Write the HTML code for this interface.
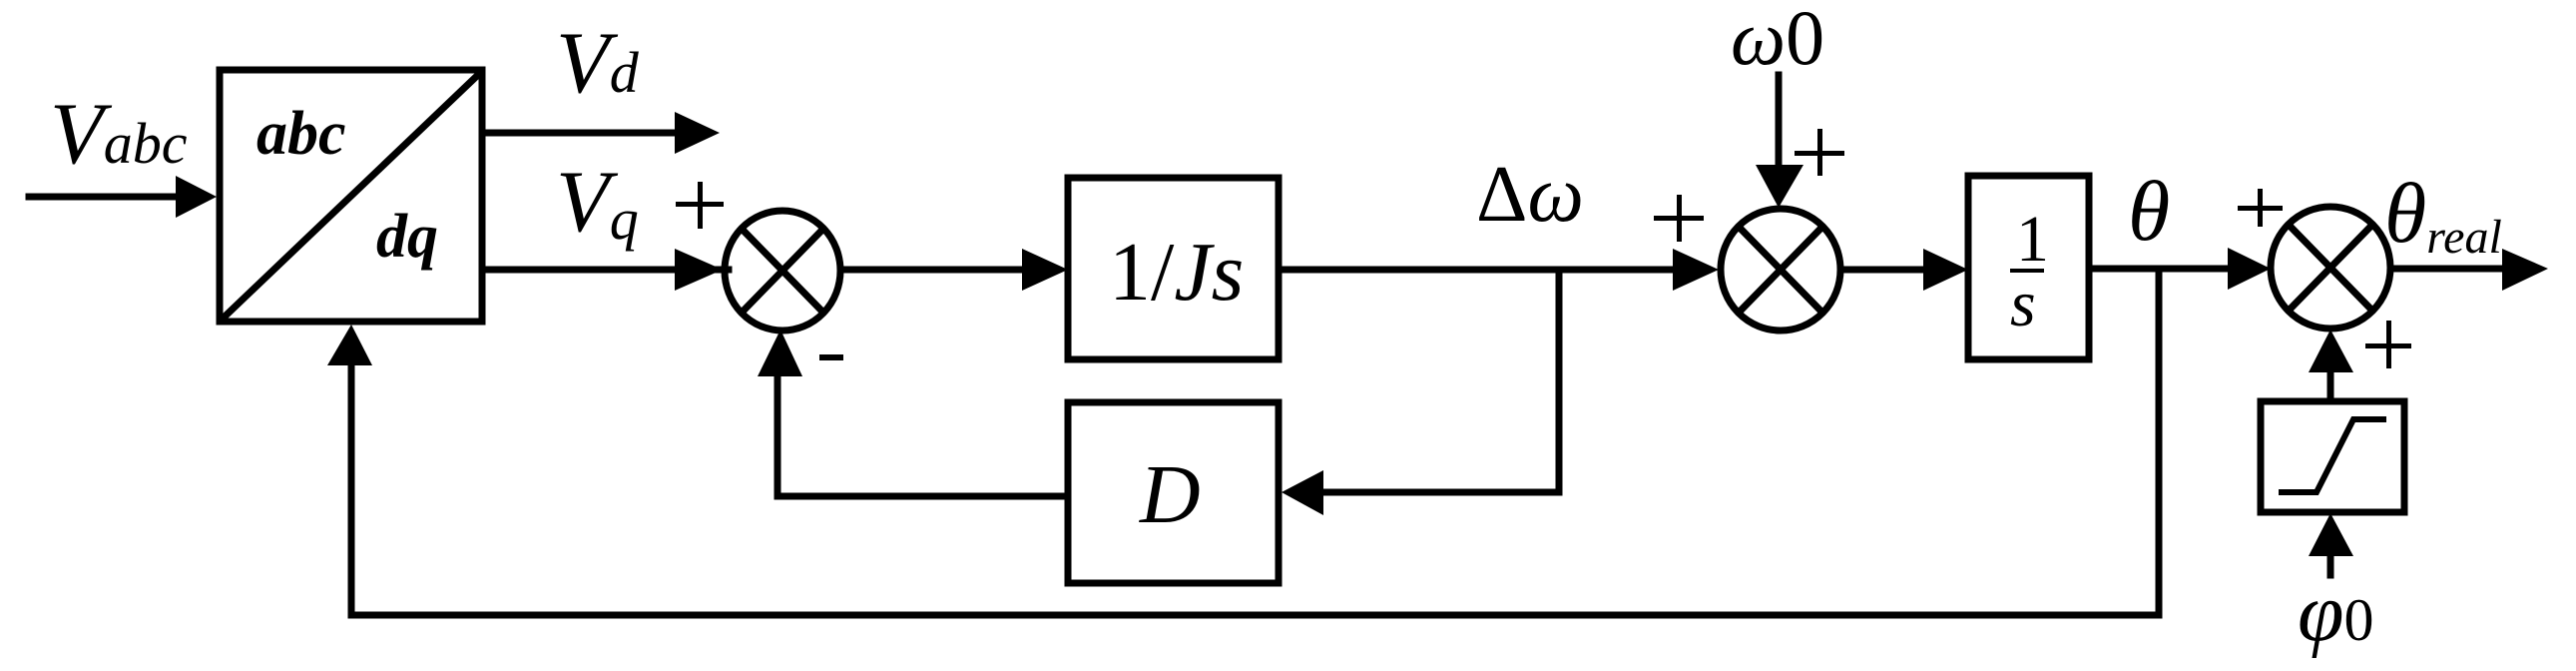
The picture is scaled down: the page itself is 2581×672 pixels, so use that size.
<!DOCTYPE html>
<html><head><style>html,body{margin:0;padding:0;background:#fff}svg{display:block}</style></head>
<body>
<svg width="2581" height="672" viewBox="0 0 2581 672" xmlns="http://www.w3.org/2000/svg" font-family="Liberation Serif, serif" font-style="italic">
<g stroke="#000" stroke-width="7" fill="none" stroke-linecap="square">
<!-- abc/dq box -->
<rect x="220" y="70" width="263" height="252"/>
<line x1="224" y1="318" x2="480" y2="74"/>
<!-- Vabc input -->
<line x1="29" y1="197" x2="180" y2="197"/>
<!-- Vd -->
<line x1="483" y1="133" x2="680" y2="133"/>
<!-- Vq -->
<line x1="483" y1="270" x2="730" y2="270"/>
<!-- summer1 -->
<ellipse cx="784" cy="271" rx="58" ry="60"/>
<line x1="743" y1="229" x2="825" y2="313"/><line x1="825" y1="229" x2="743" y2="313"/>
<line x1="842" y1="270" x2="1028" y2="270"/>
<!-- 1/Js box -->
<rect x="1070" y="178" width="211" height="182"/>
<!-- D box -->
<rect x="1070" y="403" width="211" height="181"/>
<line x1="1070" y1="497" x2="779" y2="497"/>
<line x1="779" y1="497" x2="779" y2="375"/>
<!-- forward line to summer2 -->
<line x1="1281" y1="270" x2="1680" y2="270"/>
<line x1="1562" y1="270" x2="1562" y2="493"/>
<line x1="1562" y1="493" x2="1324" y2="493"/>
<!-- summer2 -->
<ellipse cx="1784" cy="270" rx="60" ry="61"/>
<line x1="1742" y1="227" x2="1826" y2="313"/><line x1="1826" y1="227" x2="1742" y2="313"/>
<line x1="1782" y1="75" x2="1782" y2="168"/>
<line x1="1844" y1="270" x2="1930" y2="270"/>
<!-- 1/s box -->
<rect x="1972" y="176" width="121" height="184"/>
<line x1="2093" y1="269" x2="2236" y2="269"/>
<line x1="2163" y1="269" x2="2163" y2="616"/>
<line x1="2163" y1="616" x2="352" y2="616"/>
<line x1="352" y1="616" x2="352" y2="364"/>
<!-- summer3 -->
<ellipse cx="2335" cy="268" rx="60" ry="61"/>
<line x1="2293" y1="225" x2="2377" y2="311"/><line x1="2377" y1="225" x2="2293" y2="311"/>
<line x1="2395" y1="269" x2="2510" y2="269"/>
<line x1="2335" y1="402" x2="2335" y2="372"/>
<!-- saturation -->
<rect x="2265" y="402" width="144" height="111"/>
<polyline points="2283,493 2321,493 2358,420 2391,420" stroke-width="6" stroke-linecap="butt"/>
<line x1="2335" y1="576" x2="2335" y2="555"/>
</g>
<g fill="#000">
<polygon points="176,176 217,197 176,218"/>
<polygon points="676,112 721,133 676,154"/>
<polygon points="676,249 724,270 676,291"/>
<polygon points="759,377 804,377 782,330"/>
<polygon points="1024,249 1070,270 1024,291"/>
<polygon points="1326,471 1284,493 1326,516"/>
<polygon points="1676,249 1722,270 1676,291"/>
<polygon points="1759,165 1807,165 1782,208"/>
<polygon points="1927,249 1972,270 1927,291"/>
<polygon points="2232,248 2275,269 2232,290"/>
<polygon points="2507,249 2553,269 2507,291"/>
<polygon points="2313,373 2358,373 2335,330"/>
<polygon points="2313,557 2358,557 2335,514"/>
<polygon points="328,366 373,366 352,325"/>
</g>
<g font-size="88" fill="#000">
<text x="50" y="163">V<tspan font-size="58">abc</tspan></text>
<text x="557" y="92">V<tspan font-size="58">d</tspan></text>
<text x="557" y="231">V<tspan font-size="58" dy="8">q</tspan></text>
<text x="257" y="154" font-weight="bold" font-size="62">abc</text>
<text x="377" y="257" font-weight="bold" font-size="62">dq</text>
<text x="1111" y="300" font-style="normal" font-size="84">1/<tspan font-style="italic">Js</tspan></text>
<text x="1142" y="523" font-size="84">D</text>
<text x="1479" y="221" font-style="normal" font-size="80">Δ<tspan font-style="italic">ω</tspan></text>
<text x="1734" y="64" font-size="78">ω<tspan font-style="normal">0</tspan></text>
<text x="2020" y="261" font-style="normal" font-size="66">1</text>
<text x="2014" y="326" font-size="66">s</text>
<text x="2132" y="240" font-size="86">θ</text>
<text x="2389" y="242" font-size="86">θ<tspan font-size="48" dy="11">real</tspan></text>
<text x="2302" y="641" font-size="84">φ<tspan font-style="normal" font-size="60">0</tspan></text>
</g>
<g fill="#000" font-style="normal" font-family="Liberation Sans, sans-serif" font-size="64">
<rect x="677" y="202" width="48" height="5"/><rect x="699" y="182" width="5" height="47"/>
<rect x="821" y="355" width="24" height="6"/>
<rect x="1657" y="216" width="50" height="5"/><rect x="1680" y="195" width="5" height="47"/>
<rect x="1798" y="151" width="50" height="5"/><rect x="1821" y="129" width="5" height="47"/>
<rect x="2242" y="206" width="45" height="5"/><rect x="2262" y="189" width="5" height="38"/>
<rect x="2370" y="344" width="46" height="5"/><rect x="2391" y="321" width="5" height="48"/>
<rect x="2014" y="269" width="34" height="4"/>
</g>
</svg>
</body></html>
